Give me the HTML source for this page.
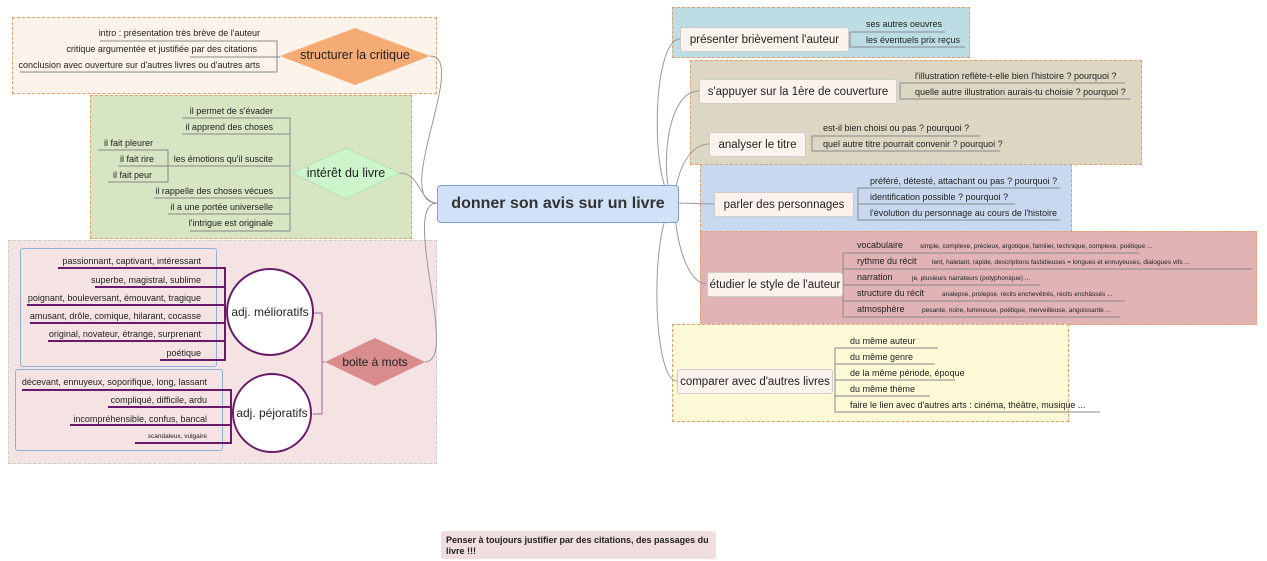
<!DOCTYPE html>
<html><head><meta charset="utf-8"><style>
body{margin:0;width:1267px;height:561px;background:#fff;position:relative;overflow:hidden;font-family:"Liberation Sans",sans-serif;color:#222}
.a{position:absolute;white-space:nowrap}
.box{position:absolute;border:1px dashed #e0a070}
.n{position:absolute;background:#fdf3ee;border:1px solid #ccc;border-radius:3px;font-size:11.5px;display:flex;align-items:center;justify-content:center;white-space:nowrap}
.t{position:absolute;font-size:9px;white-space:nowrap}
.s{position:absolute;font-size:6.5px;white-space:nowrap}
</style></head><body>
<div class="box" style="left:12px;top:17px;width:423px;height:75px;background:#fdf3ea"></div>
<div class="box" style="left:90px;top:95px;width:320px;height:142px;background:#d8e5c2"></div>
<div class="box" style="left:8px;top:240px;width:427px;height:222px;background:#f5e3e3;border-color:#ccc"></div>
<div class="box" style="left:672px;top:7px;width:296px;height:49px;background:#bcdde3"></div>
<div class="box" style="left:690px;top:60px;width:450px;height:103px;background:#dcd7c3"></div>
<div class="box" style="left:700px;top:164px;width:370px;height:66px;background:#c8d9ef"></div>
<div class="box" style="left:700px;top:231px;width:555px;height:92px;background:#e1b3b5"></div>
<div class="box" style="left:672px;top:324px;width:395px;height:96px;background:#fcfad6"></div>
<div class="a" style="left:20px;top:248px;width:195px;height:117px;border:1px solid #8fb0d8;border-radius:3px"></div>
<div class="a" style="left:15px;top:369px;width:206px;height:80px;border:1px solid #8fb0d8;border-radius:3px"></div>
<svg class="a" style="left:0;top:0" width="1267" height="561">
<g fill="none" stroke="#999" stroke-width="1">
<path d="M437 203 C390 203 470 56 430 56"/>
<path d="M437 203 C420 203 420 173 400 173"/>
<path d="M437 203 C400 203 460 362 425 362"/>
<path d="M678 203 C650 203 650 39 680 39"/>
<path d="M678 203 C660 203 660 91 699 91"/>
<path d="M678 203 C670 203 680 144 709 144"/>
<path d="M678 203 L714 204"/>
<path d="M678 203 C670 203 680 284 707 284"/>
<path d="M678 203 C650 203 650 381 677 381"/>
</g>
<g fill="none" stroke="#888" stroke-width="1">
<path d="M100 41H277V72H20M190 57H280"/>
<path d="M182 118H290V231H190M182 134H290M162 166H290M154 198H290M168 214H290M98 150H168V182H108M118 166H168"/>
<path d="M850 32H850V47H965M850 32H945"/>
<path d="M900 83V99H1130M900 83H1125"/>
<path d="M812 136V151H1000M812 136H980"/>
<path d="M858 188V220H1060M858 188H1060M858 204H1015"/>
<path d="M843 253V317H1120M843 253H1140M843 269H1252M843 285H1040M843 301H1125"/>
<path d="M835 348V412H1100M835 348H938M835 364H935M835 380H955M835 396H930"/>
</g>
<polygon points="280,56 355,28 430,56 355,85" fill="#f5ab74"/>
<polygon points="292,173 346,148 400,173 346,199" fill="#ccf5cc" stroke="#9c9" stroke-width=".5"/>
<polygon points="325,362 375,338 425,362 375,386" fill="#d98c8c"/>
<g fill="none" stroke="#6a1a6a" stroke-width="2">
<path d="M58 268H225V360H160M95 287H225M27 305H225M30 323H225M48 341H225"/>
<path d="M22 390H231V443H135M108 407H231M70 425H231"/>
</g>
<path d="M313 313H322V414H313M322 362H325" fill="none" stroke="#a060a0"/>
<circle cx="270" cy="312" r="43" fill="#fff" stroke="#6a1a6a" stroke-width="2"/>
<circle cx="272" cy="413" r="39" fill="#fff" stroke="#6a1a6a" stroke-width="2"/>
</svg>
<div class="a" style="left:290px;top:48px;width:130px;text-align:center;font-size:12.5px">structurer la critique</div>
<div class="a" style="left:296px;top:166px;width:100px;text-align:center;font-size:12.5px">intérêt du livre</div>
<div class="a" style="left:325px;top:355px;width:100px;text-align:center;font-size:12px">boite à mots</div>
<div class="a" style="left:227px;top:305px;width:86px;text-align:center;font-size:12px">adj. mélioratifs</div>
<div class="a" style="left:233px;top:406px;width:78px;text-align:center;font-size:12px">adj. péjoratifs</div>
<div class="t" style="right:1007px;top:28px">intro : présentation très brève de l'auteur</div>
<div class="t" style="right:1010px;top:44px">critique argumentée et justifiée par des citations</div>
<div class="t" style="right:1007px;top:60px">conclusion avec ouverture sur d'autres livres ou d'autres arts</div>
<div class="t" style="right:994px;top:106px">il permet de s'évader</div>
<div class="t" style="right:994px;top:122px">il apprend des choses</div>
<div class="t" style="right:994px;top:154px">les émotions qu'il suscite</div>
<div class="t" style="right:994px;top:186px">il rappelle des choses vécues</div>
<div class="t" style="right:994px;top:202px">il a une portée universelle</div>
<div class="t" style="right:994px;top:218px">l'intrigue est originale</div>
<div class="t" style="left:104px;top:138px">il fait pleurer</div>
<div class="t" style="left:120px;top:154px">il fait rire</div>
<div class="t" style="left:113px;top:170px">il fait peur</div>
<div class="t" style="right:1066px;top:256px">passionnant, captivant, intéressant</div>
<div class="t" style="right:1066px;top:275px">superbe, magistral, sublime</div>
<div class="t" style="right:1066px;top:293px">poignant, bouleversant, émouvant, tragique</div>
<div class="t" style="right:1066px;top:311px">amusant, drôle, comique, hilarant, cocasse</div>
<div class="t" style="right:1066px;top:329px">original, novateur, étrange, surprenant</div>
<div class="t" style="right:1066px;top:348px">poétique</div>
<div class="t" style="right:1060px;top:377px">décevant, ennuyeux, soporifique, long, lassant</div>
<div class="t" style="right:1060px;top:395px">compliqué, difficile, ardu</div>
<div class="t" style="right:1060px;top:414px">incompréhensible, confus, bancal</div>
<div class="s" style="right:1060px;top:433px">scandaleux, vulgaire</div>
<div class="a" style="left:437px;top:185px;width:240px;height:36px;background:#d1e1f7;border:1px solid #7f9fcc;border-radius:4px;font-size:16px;font-weight:bold;color:#333;display:flex;align-items:center;justify-content:center">donner son avis sur un livre</div>
<div class="n" style="left:680px;top:27px;width:167px;height:23px">présenter brièvement l'auteur</div>
<div class="n" style="left:699px;top:79px;width:196px;height:23px">s'appuyer sur la 1ère de couverture</div>
<div class="n" style="left:709px;top:132px;width:95px;height:23px">analyser le titre</div>
<div class="n" style="left:714px;top:192px;width:138px;height:23px">parler des personnages</div>
<div class="n" style="left:707px;top:272px;width:134px;height:23px">étudier le style de l'auteur</div>
<div class="n" style="left:677px;top:369px;width:154px;height:23px">comparer avec d'autres livres</div>
<div class="t" style="left:866px;top:19px">ses autres oeuvres</div>
<div class="t" style="left:866px;top:35px">les éventuels prix reçus</div>
<div class="t" style="left:915px;top:71px">l'illustration reflète-t-elle bien l'histoire ? pourquoi ?</div>
<div class="t" style="left:915px;top:87px">quelle autre illustration aurais-tu choisie ? pourquoi ?</div>
<div class="t" style="left:823px;top:123px">est-il bien choisi ou pas ? pourquoi ?</div>
<div class="t" style="left:823px;top:139px">quel autre titre pourrait convenir ? pourquoi ?</div>
<div class="t" style="left:870px;top:176px">préféré, détesté, attachant ou pas ? pourquoi ?</div>
<div class="t" style="left:870px;top:192px">identification possible ? pourquoi ?</div>
<div class="t" style="left:870px;top:208px">l'évolution du personnage au cours de l'histoire</div>
<div class="t" style="left:857px;top:240px">vocabulaire</div>
<div class="t" style="left:857px;top:256px">rythme du récit</div>
<div class="t" style="left:857px;top:272px">narration</div>
<div class="t" style="left:857px;top:288px">structure du récit</div>
<div class="t" style="left:857px;top:304px">atmosphère</div>
<div class="s" style="left:920px;top:243px">simple, complexe, précieux, argotique, familier, technique, complexe, poétique ...</div>
<div class="s" style="left:932px;top:259px">lent, haletant, rapide, descriptions fastidieuses = longues et ennuyeuses, dialogues vifs ...</div>
<div class="s" style="left:912px;top:275px">je, plusieurs narrateurs (polyphonique) ...</div>
<div class="s" style="left:942px;top:291px">analepse, prolepse, récits enchevêtrés, récits enchâssés ...</div>
<div class="s" style="left:922px;top:307px">pesante, noire, lumineuse, poétique, merveilleuse, angoissante ...</div>
<div class="t" style="left:850px;top:336px">du même auteur</div>
<div class="t" style="left:850px;top:352px">du même genre</div>
<div class="t" style="left:850px;top:368px">de la même période, époque</div>
<div class="t" style="left:850px;top:384px">du même thème</div>
<div class="t" style="left:850px;top:400px">faire le lien avec d'autres arts : cinéma, théâtre, musique ...</div>
<div class="a" style="left:441px;top:531px;width:275px;height:28px;padding:2px 5px;box-sizing:border-box;background:#f0dede;border-radius:3px;font-size:9px;font-weight:bold;white-space:normal;line-height:11px;padding-top:4px">Penser à toujours justifier par des citations, des passages du livre !!!</div>
</body></html>
